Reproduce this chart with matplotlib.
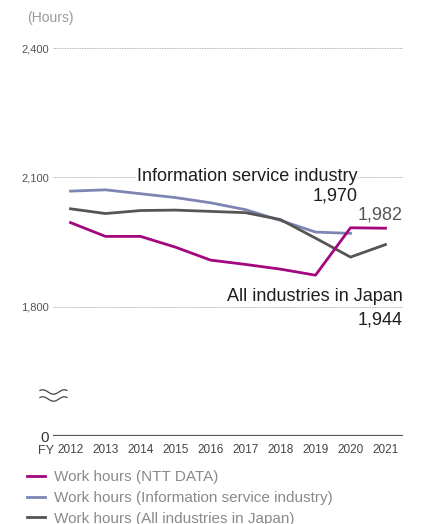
import matplotlib
matplotlib.use("Agg")
import numpy as np
import matplotlib.pyplot as plt
from matplotlib.lines import Line2D
from matplotlib.transforms import blended_transform_factory

years = [2012, 2013, 2014, 2015, 2016, 2017, 2018, 2019, 2020, 2021]
ntt_data = [1995, 1963, 1963, 1938, 1908, 1898, 1887, 1873, 1983, 1982]
info_service = [2068, 2071, 2062, 2053, 2041, 2025, 2000, 1973, 1970]
all_japan = [2027, 2016, 2023, 2024, 2021, 2018, 2002, 1959, 1915, 1944]

# the bottom of the axis stands for zero (axis is broken below 1,800)
zero_pos = 1500
ytick_vals = [zero_pos, 1800, 2100, 2400]
ytick_labels = ["0", "1,800", "2,100", "2,400"]

c_ntt = "#a3077f"
c_info = "#7d86b2"
c_all = "#555555"

plt.rcParams["font.family"] = ["Liberation Sans", "DejaVu Sans"]
narrow = ["Liberation Sans Narrow", "Liberation Sans", "DejaVu Sans"]

fig = plt.figure(figsize=(4.45, 5.24), dpi=100)
ax = fig.add_axes([53 / 445, 1 - 436 / 524, 350 / 445, 388 / 524])
ax.set_xlim(2011.5, 2021.5)
ax.set_ylim(zero_pos, 2400)

for v in ytick_vals[1:]:
    ax.axhline(v, color="#9a9a9a", lw=0.6, ls=(0, (1, 1)), zorder=1)
ax.axhline(zero_pos, color="#555555", lw=1.6, zorder=2)

ax.plot(years[:len(info_service)], info_service, color=c_info, lw=2, zorder=3, clip_on=False)
ax.plot(years, all_japan, color=c_all, lw=2, zorder=3, clip_on=False)
ax.plot(years, ntt_data, color=c_ntt, lw=2, zorder=4, clip_on=False)

for s in ax.spines.values():
    s.set_visible(False)
ax.set_yticks(ytick_vals, ytick_labels, family=narrow, fontsize=8, color="#555555")
ax.yaxis.get_ticklabels()[0].set_fontsize(11)
ax.yaxis.get_ticklabels()[0].set_color("#333333")
ax.set_xticks(years, [str(y) for y in years], family=narrow, fontsize=8.5, color="#444444")
ax.tick_params(length=0)
ax.tick_params(axis="y", pad=3)
ax.tick_params(axis="x", pad=6)

tr = blended_transform_factory(ax.transAxes, ax.transData)
ax.annotate("FY", (0, zero_pos), xycoords=tr, xytext=(-7, -15), textcoords="offset pixels",
            family=narrow, fontsize=9, color="#444444", ha="center", va="center")
fig.text(27 / 445, 1 - 18 / 524, "(Hours)", fontsize=10, color="#9a9a9a", va="center")

# axis-break mark: two small waves left of the plot
t = np.linspace(0, 1, 60)
wave = 2.2 * np.sin(2 * np.pi * t * 1.25 + np.pi * 0.25)
for y0 in (392, 399):
    xs = (40 + 27 * t) / 445
    ys = 1 - (y0 - wave) / 524
    fig.add_artist(Line2D(xs, ys, color="#444444", lw=0.9, transform=fig.transFigure))

# series labels next to the last points
ax.annotate("Information service industry", (years[len(info_service) - 1], info_service[-1]),
            xytext=(7, 57), textcoords="offset pixels", ha="right", va="center",
            fontsize=13, color="#1e1e1e", zorder=5,
            bbox=dict(facecolor="white", edgecolor="none", pad=0.5))
ax.annotate(f"{info_service[-1]:,}", (years[len(info_service) - 1], info_service[-1]),
            xytext=(7, 37), textcoords="offset pixels", ha="right", va="center",
            fontsize=13, color="#1e1e1e")
ax.annotate(f"{ntt_data[-1]:,}", (years[-1], ntt_data[-1]),
            xytext=(17, 13), textcoords="offset pixels", ha="right", va="center",
            fontsize=13, color="#555555")
ax.annotate("All industries in Japan", (years[-1], all_japan[-1]),
            xytext=(17, -52), textcoords="offset pixels", ha="right", va="center",
            fontsize=13, color="#1e1e1e")
ax.annotate(f"{all_japan[-1]:,}", (years[-1], all_japan[-1]),
            xytext=(17, -75), textcoords="offset pixels", ha="right", va="center",
            fontsize=13, color="#1e1e1e")

handles = [Line2D([], [], color=c, lw=2) for c in (c_ntt, c_info, c_all)]
labels = ["Work hours (NTT DATA)", "Work hours (Information service industry)",
          "Work hours (All industries in Japan)"]
fig.legend(handles, labels, loc="upper left", bbox_to_anchor=(27 / 445, 1 - 470 / 524),
           frameon=False, fontsize=11, labelcolor="#8a8a8a", handlelength=1.2,
           handletextpad=0.55, labelspacing=0.45, borderpad=0, borderaxespad=0)

fig.savefig("out.png", dpi=100)
